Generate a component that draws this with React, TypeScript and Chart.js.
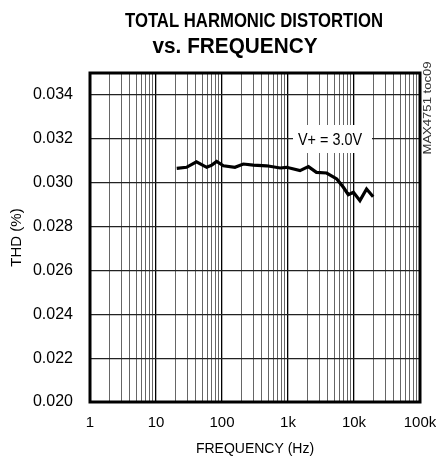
import React, { useEffect, useRef } from "react";
import { Chart, registerables } from "chart.js";

Chart.register(...registerables);

const freqHz = [20.6, 29, 41, 58.6, 70, 83, 105, 157, 210, 298, 475, 760, 955, 1520, 2040, 2700, 3850, 5480, 6900, 8200, 9800, 12300, 15500, 19500];
const thdPct = [0.03065, 0.0307, 0.03095, 0.0307, 0.0308, 0.03097, 0.03077, 0.0307, 0.03085, 0.0308, 0.03077, 0.03067, 0.0307, 0.03055, 0.03073, 0.03047, 0.03044, 0.03017, 0.02979, 0.02945, 0.02956, 0.02918, 0.02971, 0.02936];
const xTickValues = [1, 2, 3, 4, 5, 6, 7, 8, 9, 10, 20, 30, 40, 50, 60, 70, 80, 90, 100, 200, 300, 400, 500, 600, 700, 800, 900, 1000, 2000, 3000, 4000, 5000, 6000, 7000, 8000, 9000, 10000, 20000, 30000, 40000, 50000, 60000, 70000, 80000, 90000, 100000];
const xMajorLabels: Record<number, string> = { 1: "1", 10: "10", 100: "100", 1000: "1k", 10000: "10k", 100000: "100k" };
const yTickValues = [0.02, 0.022, 0.024, 0.026, 0.028, 0.03, 0.032, 0.034];
const titleLines = ["TOTAL HARMONIC DISTORTION", "vs. FREQUENCY"];
const annotationText = "V+ = 3.0V";
const sideText = "MAX4751 toc09";

const SANS = "'Liberation Sans', Arial, sans-serif";

function drawFitted(ctx: CanvasRenderingContext2D, text: string, cx: number, cy: number, width: number, font: string) {
  ctx.save();
  ctx.font = font;
  const w = ctx.measureText(text).width;
  const s = width / w;
  ctx.translate(cx, cy);
  ctx.scale(s, 1);
  ctx.textAlign = "center";
  ctx.textBaseline = "middle";
  ctx.fillText(text, 0, 0);
  ctx.restore();
}

const decorPlugin = {
  id: "decor",
  afterDatasetsDraw(chart: any) {
    const { ctx, chartArea } = chart;
    const { left, right, top, bottom } = chartArea;
    ctx.save();
    // annotation box
    ctx.fillStyle = "#fff";
    ctx.fillRect(293, 125, 79, 28);
    ctx.fillStyle = "#000";
    drawFitted(ctx, annotationText, 330, 140, 64, `17px ${SANS}`);
    // border
    ctx.strokeStyle = "#000";
    ctx.lineWidth = 3;
    ctx.strokeRect(left, top, right - left, bottom - top);
    // title
    ctx.fillStyle = "#000";
    drawFitted(ctx, titleLines[0], 254, 21, 258, `bold 21px ${SANS}`);
    drawFitted(ctx, titleLines[1], 235, 47, 165, `bold 22px ${SANS}`);
    // side text
    ctx.save();
    ctx.translate(428, 108);
    ctx.rotate(-Math.PI / 2);
    ctx.fillStyle = "#333";
    drawFitted(ctx, sideText, 0, 0, 93, `11px ${SANS}`);
    ctx.restore();
    ctx.restore();
  },
};

export default function App() {
  const ref = useRef<HTMLCanvasElement>(null);
  useEffect(() => {
    document.body.style.margin = "0";
    const chart = new Chart(ref.current!, {
      type: "line",
      data: {
        datasets: [
          {
            data: freqHz.map((f, i) => ({ x: f, y: thdPct[i] })),
            borderColor: "#000",
            borderWidth: 3.2,
            pointRadius: 0,
            tension: 0,
            fill: false,
          },
        ],
      },
      options: {
        animation: false,
        responsive: false,
        maintainAspectRatio: false,
        layout: { padding: { left: 0, top: 73, right: 16, bottom: 0 } },
        plugins: { legend: { display: false }, tooltip: { enabled: false }, title: { display: false } },
        scales: {
          x: {
            type: "logarithmic",
            min: 1,
            max: 100000,
            afterBuildTicks: (scale: any) => {
              scale.ticks = xTickValues.map((v) => ({ value: v }));
            },
            afterFit: (scale: any) => {
              scale.height = 57;
              scale.paddingLeft = 0;
              scale.paddingRight = 0;
            },
            ticks: {
              autoSkip: false,
              maxRotation: 0,
              padding: 12,
              color: "#000",
              font: { family: SANS, size: 15 },
              callback: (v: any) => xMajorLabels[v as number] ?? "",
            },
            grid: {
              drawTicks: false,
              color: (c: any) => (xMajorLabels[c.tick?.value] !== undefined ? "#000" : "#666"),
              lineWidth: (c: any) => (xMajorLabels[c.tick?.value] !== undefined ? 1.3 : 1),
            },
            border: { display: false },
            title: {
              display: true,
              text: "FREQUENCY (Hz)",
              color: "#000",
              font: { family: SANS, size: 14 },
              padding: { top: 0, bottom: 1 },
            },
          },
          y: {
            min: 0.02,
            max: 0.035,
            afterBuildTicks: (scale: any) => {
              scale.ticks = yTickValues.map((v) => ({ value: v }));
            },
            afterFit: (scale: any) => {
              scale.width = 90;
              scale.paddingTop = 0;
              scale.paddingBottom = 0;
            },
            ticks: {
              padding: 17,
              color: "#000",
              font: { family: SANS, size: 16 },
              callback: (v: any) => Number(v).toFixed(3),
            },
            grid: { drawTicks: false, color: "#222", lineWidth: 1.2 },
            border: { display: false },
            title: {
              display: true,
              text: "THD (%)",
              color: "#000",
              font: { family: SANS, size: 15 },
              padding: { top: 8, bottom: 0 },
            },
          },
        },
      },
      plugins: [decorPlugin],
    } as any);
    return () => chart.destroy();
  }, []);
  return (
    <div style={{ width: 436, height: 459 }}>
      <canvas ref={ref} width={436} height={459} style={{ width: 436, height: 459, display: "block" }} />
    </div>
  );
}
